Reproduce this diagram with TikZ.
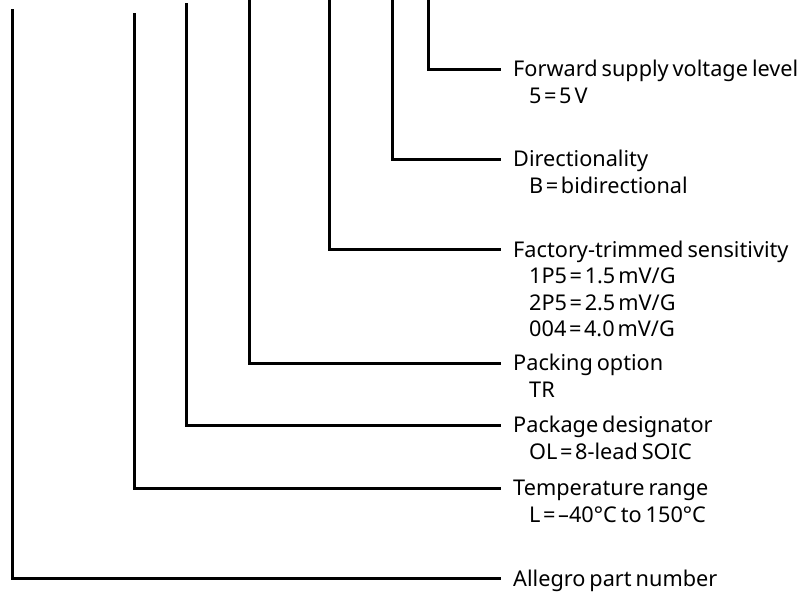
\documentclass[tikz,border=0pt]{standalone}
\usepackage{fontspec}
\setmainfont{Noto Sans}[WordSpace=0.7]
\newcommand{\eqs}{\kern2.6pt=\kern2.6pt}
\newcommand{\usp}{\kern3pt}
\begin{document}
\begin{tikzpicture}[x=1pt,y=-1pt,
  conn/.style={draw=black,line width=3pt},
  lbl/.style={anchor=base west,inner xsep=0pt,inner ysep=0pt,text height=15.5pt,text depth=0pt,font=\fontsize{21.7}{26.5}\selectfont},
  sub/.style={anchor=base west,inner sep=0pt,font=\fontsize{21.7}{26.5}\selectfont}]
\useasboundingbox (0,0) rectangle (804,592);
\fill[white] (0,0) rectangle (804,592);
% tops of the leads
\coordinate (c1) at (428,0);
\coordinate (c2) at (392,0);
\coordinate (c3) at (329,0);
\coordinate (c4) at (249,0);
\coordinate (c5) at (186,3);
\coordinate (c6) at (134,13);
\coordinate (c7) at (12,9);
% labels
\node[lbl] (t1) at (513,76.8) {Forward supply voltage level};
\node[sub] (s1a) at (529,103.3) {5\eqs5\usp V};
\node[lbl] (t2) at (513,166.8) {Directionality};
\node[sub] (s2a) at (529,193.3) {B\eqs bidirectional};
\node[lbl] (t3) at (513,257) {Factory-trimmed sensitivity};
\node[sub] (s3a) at (529,283.5) {1P5\eqs1.5\usp mV/G};
\node[sub] (s3b) at (529,310) {2P5\eqs2.5\usp mV/G};
\node[sub] (s3c) at (529,336.5) {004\eqs4.0\usp mV/G};
\node[lbl] (t4) at (513,370.8) {Packing option};
\node[sub] (s4a) at (529,397.3) {TR};
\node[lbl] (t5) at (513,432.8) {Package designator};
\node[sub] (s5a) at (529,459.3) {OL\eqs8-lead SOIC};
\node[lbl] (t6) at (513,495.8) {Temperature range};
\node[sub] (s6a) at (529,522.3) {L\eqs–40°C to 150°C};
\node[lbl] (t7) at (513,586.3) {Allegro part number};
% connectors
\foreach \i in {1,...,7}{
  \draw[conn] (c\i) |- ([xshift=-12pt]t\i.west);
}
\end{tikzpicture}
\end{document}
